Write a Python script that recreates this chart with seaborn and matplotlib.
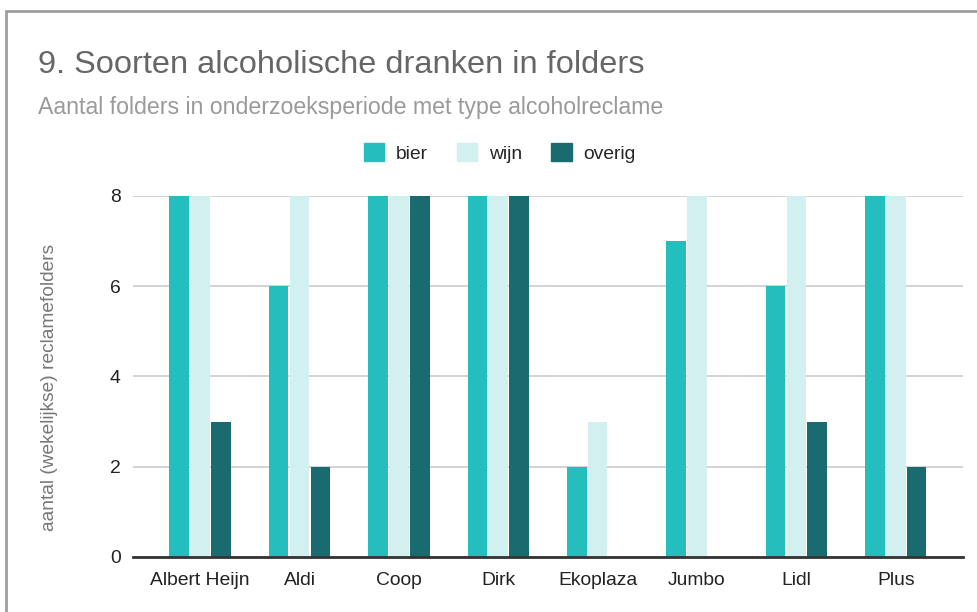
import matplotlib
matplotlib.use("Agg")
import matplotlib.pyplot as plt
from matplotlib.lines import Line2D
import seaborn as sns
import pandas as pd

winkels = ["Albert Heijn", "Aldi", "Coop", "Dirk", "Ekoplaza", "Jumbo", "Lidl", "Plus"]
bier = [8, 6, 8, 8, 2, 7, 6, 8]
wijn = [8, 8, 8, 8, 3, 8, 8, 8]
overig = [3, 2, 8, 8, 0, 0, 3, 2]
soorten = ["bier", "wijn", "overig"]
kleuren = ["#24bebe", "#d2f0f0", "#196b70"]

df = pd.DataFrame({"winkel": winkels, "bier": bier, "wijn": wijn, "overig": overig})
df = df.melt(id_vars="winkel", var_name="soort", value_name="aantal")

sns.set_theme(style="white")
plt.rcParams["font.family"] = ["Liberation Sans", "DejaVu Sans"]

fig = plt.figure(figsize=(9.78, 6.12), dpi=100)
ax = fig.add_axes([0.136, 0.09, 0.849, 0.59])

sns.barplot(data=df, x="winkel", y="aantal", hue="soort", hue_order=soorten,
            palette=kleuren, width=0.63, gap=0.06, saturation=1,
            edgecolor="none", legend=False, ax=ax)

ax.set_ylim(0, 8)
ax.set_xlim(-0.675, 7.68)
ax.set_yticks([0, 2, 4, 6, 8])
ax.yaxis.grid(True, color="#cccccc", linewidth=1.2)
ax.set_axisbelow(True)
for s in ["top", "right", "left"]:
    ax.spines[s].set_visible(False)
ax.spines["bottom"].set_color("#333333")
ax.spines["bottom"].set_linewidth(2)
ax.tick_params(axis="both", length=0, labelsize=13.9, colors="#222222")
ax.tick_params(axis="x", pad=11)
ax.tick_params(axis="y", pad=9)
ax.set_xlabel("")
ax.set_ylabel("aantal (wekelijkse) reclamefolders", color="#777777", fontsize=13.8)
ax.yaxis.set_label_coords(-0.09, 0.47)
for p in ax.patches:
    p.set_clip_on(False)

# legenda
handles = [plt.Rectangle((0, 0), 1, 1, color=c) for c in kleuren]
fig.legend(handles, soorten, loc="center", bbox_to_anchor=(0.511, 0.75), ncol=3,
           frameon=False, fontsize=13.9, handlelength=1.05, handleheight=1.05,
           columnspacing=1.5, handletextpad=0.62)

fig.text(0.039, 0.893, "9. Soorten alcoholische dranken in folders", fontsize=23.4,
         color="#666666", va="center")
fig.text(0.039, 0.824, "Aantal folders in onderzoeksperiode met type alcoholreclame",
         fontsize=16.7, color="#9a9a9a", va="center")

# kader van de schermafdruk
fig.add_artist(Line2D([0.006, 1.0], [0.982, 0.982], color="#9e9e9e", linewidth=2))
fig.add_artist(Line2D([0.006, 0.006], [0.0, 0.982], color="#9e9e9e", linewidth=2))

fig.savefig("out.png", dpi=100)
